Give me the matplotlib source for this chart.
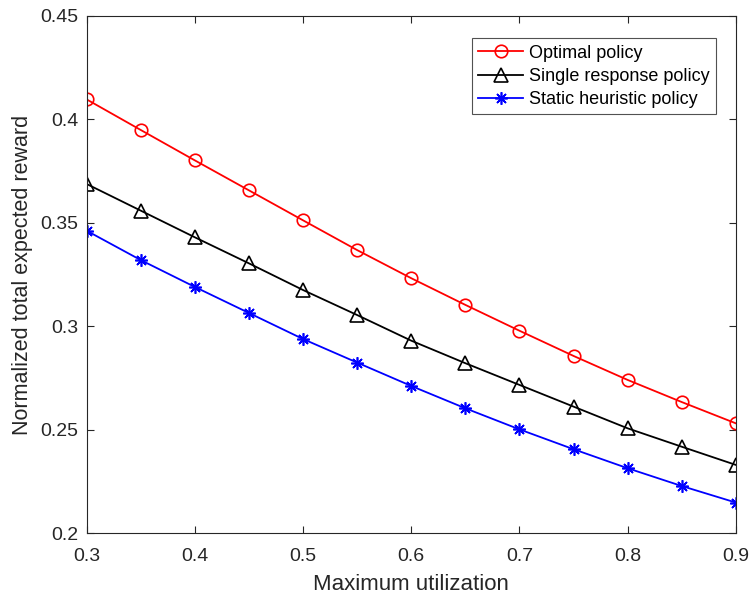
import matplotlib
matplotlib.use("Agg")
import matplotlib.pyplot as plt

plt.rcParams['font.family'] = ['Liberation Sans', 'DejaVu Sans']

x = [0.3, 0.35, 0.4, 0.45, 0.5, 0.55, 0.6, 0.65, 0.7, 0.75, 0.8, 0.85, 0.9]
optimal = [0.4097, 0.3949, 0.3802, 0.3657, 0.3512, 0.3368, 0.3232, 0.3103, 0.2978, 0.2856, 0.2740, 0.2633, 0.2530]
single = [0.3688, 0.3559, 0.3430, 0.3304, 0.3175, 0.3054, 0.2930, 0.2821, 0.2716, 0.2611, 0.2506, 0.2417, 0.2329]
static = [0.3462, 0.3320, 0.3190, 0.3064, 0.2938, 0.2824, 0.2711, 0.2603, 0.2501, 0.2405, 0.2313, 0.2227, 0.2147]
labels = ["Optimal policy", "Single response policy", "Static heuristic policy"]

fig = plt.figure(figsize=(7.53, 5.96), dpi=100)
ax = fig.add_axes([0.1149, 0.1057, 0.8625, 0.8675])

ax.plot(x, optimal, color='red', marker='o', markersize=9, markerfacecolor='none',
        markeredgewidth=1.2, linewidth=1.3, label=labels[0])
ax.plot(x, single, color='black', marker='^', markersize=9.5, markerfacecolor='none',
        markeredgewidth=1.2, linewidth=1.3, label=labels[1])
ax.plot(x, static, color='blue', marker=(8, 2, 0), markersize=9, markerfacecolor='none',
        markeredgewidth=1.2, linewidth=1.3, label=labels[2])

ax.set_xlim(0.3, 0.9)
ax.set_ylim(0.2, 0.45)
ax.set_xticks([0.3, 0.4, 0.5, 0.6, 0.7, 0.8, 0.9])
ax.set_xticklabels(['0.3', '0.4', '0.5', '0.6', '0.7', '0.8', '0.9'])
ax.set_yticks([0.2, 0.25, 0.3, 0.35, 0.4, 0.45])
ax.set_yticklabels(['0.2', '0.25', '0.3', '0.35', '0.4', '0.45'])
ax.tick_params(direction='in', top=True, right=True, labelsize=14, length=5, width=0.8,
               colors='#262626')
ax.tick_params(axis='y', pad=6)
ax.tick_params(axis='x', pad=11)
for s in ax.spines.values():
    s.set_linewidth(0.8)
    s.set_color('#262626')

ax.set_xlabel('Maximum utilization', fontsize=16, color='#262626', labelpad=6)
ax.set_ylabel('Normalized total expected reward', fontsize=15.5, color='#262626', labelpad=5)

leg = ax.legend(loc='upper right', bbox_to_anchor=(0.969, 0.957), fontsize=13, frameon=True,
                fancybox=False, edgecolor='#262626', handlelength=2.5, borderpad=0.35,
                labelspacing=0.35, handletextpad=0.3, borderaxespad=0)
leg.get_frame().set_linewidth(0.8)

fig.savefig('out.png', dpi=100)
